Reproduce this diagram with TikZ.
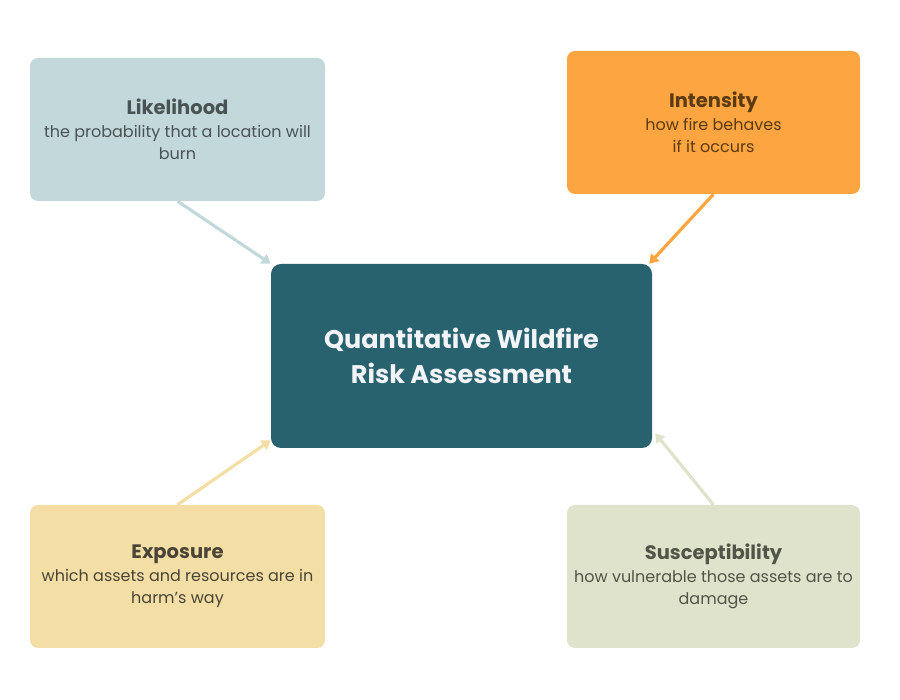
\documentclass[tikz,border=0pt]{standalone}
\usepackage{fontspec}
\setmainfont{Poppins}
\usepackage{xcolor}
\usetikzlibrary{positioning}
\usetikzlibrary{arrows.meta}

\definecolor{likefill}{HTML}{C3D8DB}
\definecolor{liketext}{HTML}{4A5354}
\definecolor{intfill}{HTML}{FDA641}
\definecolor{inttext}{HTML}{5B3A12}
\definecolor{expfill}{HTML}{F3DFA6}
\definecolor{exptext}{HTML}{4A4437}
\definecolor{susfill}{HTML}{DFE3CB}
\definecolor{sustext}{HTML}{515548}
\definecolor{qwrfill}{HTML}{28626E}
\definecolor{qwrtext}{HTML}{F2F4F8}

\tikzset{
  factor/.style={rounded corners=8pt, minimum width=295pt, minimum height=143pt,
    align=center, inner sep=0pt, font=\fontsize{16}{22}\selectfont},
  feed/.style={line width=3.2pt, -{Triangle[length=9pt,width=11pt]}},
}
\newcommand{\factortitle}[1]{{\fontsize{19.5}{22}\selectfont\bfseries #1}}

\begin{document}
\begin{tikzpicture}[x=1pt, y=1pt]
\useasboundingbox (0,0) rectangle (900,700);

\node[factor, fill=likefill, text=liketext] (likelihood) at (177.5,570.5)
  {\factortitle{Likelihood}\\[1pt] the probability that a location will\\ burn};
\node[factor, fill=intfill, text=inttext, minimum width=293pt] (intensity) at (713.5,577.5)
  {\factortitle{Intensity}\\[1pt] how fire behaves\\ if it occurs};
\node[factor, fill=expfill, text=exptext] (exposure) at (177.5,123.5)
  {\factortitle{Exposure}\\[1pt] which assets and resources are in\\ harm’s way};
\node[factor, fill=susfill, text=sustext, minimum width=293pt] (susceptibility) at (713.5,123.5)
  {\factortitle{Susceptibility}\\[1pt] how vulnerable those assets are to\\ damage};

\node[rounded corners=10pt, fill=qwrfill, text=qwrtext, minimum width=381pt, minimum height=184pt,
  align=center, font=\fontsize{25.5}{35}\selectfont\bfseries] (qwra) at (461.5,344)
  {Quantitative Wildfire\\ Risk Assessment};

% arrows into the centre
\draw[feed, likefill] (likelihood.south) -- (qwra.north west);
\draw[feed, intfill] (intensity.south) -- ([xshift=-3pt]qwra.north east);
\draw[feed, expfill] (exposure.north) -- ([yshift=8pt]qwra.south west);
\draw[feed, susfill] (susceptibility.north) -- ([xshift=3pt,yshift=15pt]qwra.south east);
\end{tikzpicture}
\end{document}
